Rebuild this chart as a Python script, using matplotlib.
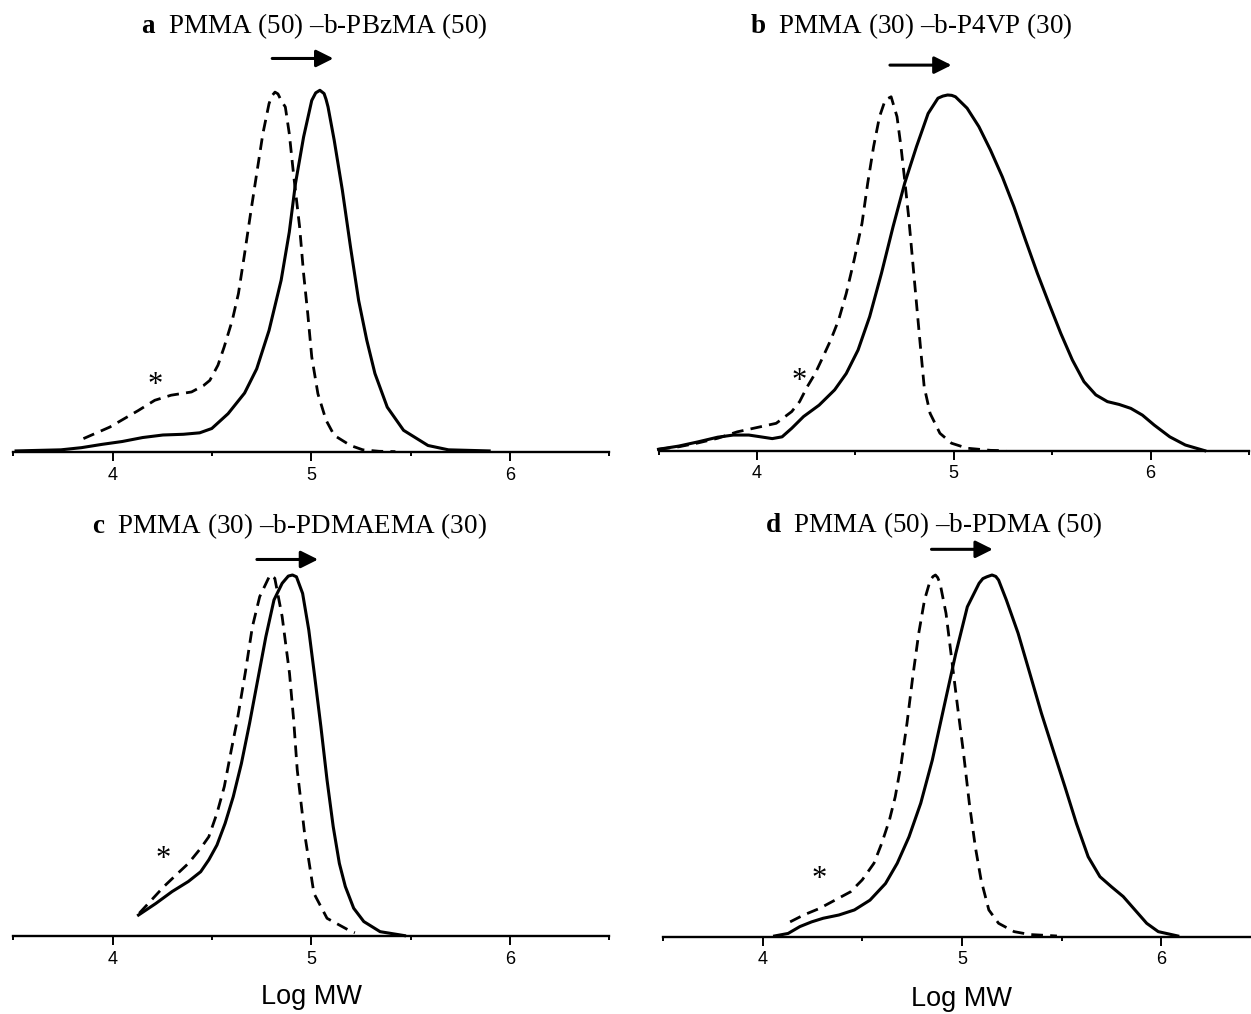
import numpy as np
import matplotlib
matplotlib.use('Agg')
import matplotlib.pyplot as plt

# GPC traces (x = Log MW, y = normalised RI signal)
# dashed = PMMA macro-initiator, solid = block copolymer

titles = ['a', 'b', 'c', 'd']
title_text = ['PMMA (50) \u2013b-PBzMA (50)',
              'PMMA (30) \u2013b-P4VP (30)',
              'PMMA (30) \u2013b-PDMAEMA (30)',
              'PMMA (50) \u2013b-PDMA (50)']

a_solid_x = [3.514, 3.740, 3.843, 3.945, 4.048, 4.151, 4.253, 4.356, 4.438, 4.499, 4.581,
             4.664, 4.725, 4.787, 4.848, 4.889, 4.920, 4.961, 5.002, 5.022, 5.043, 5.064,
             5.074, 5.084, 5.115, 5.156, 5.197, 5.238, 5.279, 5.320, 5.382, 5.464, 5.587,
             5.690, 5.895]
a_solid_y = [0.003, 0.006, 0.012, 0.021, 0.029, 0.040, 0.047, 0.049, 0.053, 0.065, 0.106,
             0.163, 0.230, 0.336, 0.475, 0.608, 0.742, 0.871, 0.972, 0.993, 1.000, 0.991,
             0.975, 0.954, 0.862, 0.724, 0.567, 0.419, 0.309, 0.217, 0.124, 0.060, 0.018,
             0.006, 0.003]
a_dash_x = [3.853, 3.986, 4.130, 4.212, 4.294, 4.397, 4.458, 4.489, 4.530, 4.561, 4.602,
            4.633, 4.664, 4.694, 4.725, 4.756, 4.787, 4.802, 4.817, 4.832, 4.848, 4.869,
            4.889, 4.910, 4.941, 4.961, 4.982, 5.002, 5.033, 5.074, 5.115, 5.197, 5.259,
            5.341, 5.423]
a_dash_y = [0.037, 0.069, 0.115, 0.143, 0.157, 0.166, 0.184, 0.198, 0.240, 0.290, 0.364,
            0.438, 0.548, 0.659, 0.770, 0.880, 0.963, 0.985, 0.995, 0.990, 0.972, 0.954,
            0.880, 0.770, 0.622, 0.493, 0.382, 0.263, 0.161, 0.088, 0.046, 0.018, 0.006,
            0.002, 0.001]

b_solid_x = [3.500, 3.603, 3.702, 3.801, 3.880, 3.959, 4.019, 4.078, 4.128, 4.177, 4.237,
             4.316, 4.395, 4.454, 4.514, 4.573, 4.633, 4.692, 4.751, 4.811, 4.870, 4.920,
             4.945, 4.969, 4.990, 5.009, 5.068, 5.128, 5.187, 5.247, 5.306, 5.365, 5.425,
             5.484, 5.544, 5.603, 5.662, 5.722, 5.781, 5.841, 5.900, 5.959, 6.019, 6.098,
             6.177, 6.276]
b_solid_y = [0.004, 0.013, 0.025, 0.038, 0.044, 0.044, 0.039, 0.034, 0.039, 0.063, 0.096,
             0.128, 0.171, 0.217, 0.283, 0.377, 0.499, 0.630, 0.752, 0.855, 0.948, 0.991,
             0.997, 1.000, 0.999, 0.995, 0.963, 0.911, 0.845, 0.770, 0.686, 0.592, 0.499,
             0.414, 0.330, 0.255, 0.194, 0.157, 0.138, 0.130, 0.119, 0.100, 0.072, 0.039,
             0.016, 0.000]
b_dash_x = [3.500, 3.603, 3.702, 3.801, 3.900, 3.999, 4.098, 4.177, 4.217, 4.256, 4.296,
            4.336, 4.375, 4.415, 4.454, 4.494, 4.534, 4.563, 4.593, 4.623, 4.652, 4.682,
            4.712, 4.732, 4.751, 4.771, 4.791, 4.811, 4.831, 4.850, 4.880, 4.930, 4.989,
            5.068, 5.187, 5.266]
b_dash_y = [0.004, 0.011, 0.022, 0.035, 0.053, 0.065, 0.077, 0.110, 0.138, 0.180, 0.217,
            0.264, 0.311, 0.367, 0.442, 0.536, 0.639, 0.752, 0.855, 0.939, 0.986, 0.995,
            0.939, 0.855, 0.761, 0.658, 0.536, 0.414, 0.292, 0.180, 0.105, 0.049, 0.021,
            0.007, 0.001, 0.000]

c_solid_x = [4.130, 4.217, 4.299, 4.381, 4.443, 4.484, 4.525, 4.566, 4.607, 4.648, 4.689,
             4.730, 4.771, 4.812, 4.853, 4.884, 4.905, 4.925, 4.956, 4.987, 5.017, 5.048,
             5.079, 5.110, 5.141, 5.171, 5.213, 5.264, 5.346, 5.469]
c_solid_y = [0.058, 0.090, 0.123, 0.151, 0.178, 0.211, 0.252, 0.312, 0.386, 0.478, 0.589,
             0.709, 0.829, 0.931, 0.977, 0.997, 1.000, 0.995, 0.949, 0.848, 0.718, 0.580,
             0.432, 0.303, 0.201, 0.137, 0.077, 0.040, 0.012, 0.001]
c_dash_x = [4.134, 4.196, 4.258, 4.319, 4.381, 4.443, 4.484, 4.525, 4.562, 4.597, 4.627,
            4.668, 4.703, 4.740, 4.792, 4.816, 4.853, 4.890, 4.911, 4.929, 4.966, 5.013,
            5.079, 5.192, 5.219]
c_dash_y = [0.063, 0.100, 0.137, 0.169, 0.201, 0.243, 0.275, 0.340, 0.414, 0.515, 0.598,
            0.731, 0.856, 0.940, 1.000, 0.991, 0.885, 0.728, 0.598, 0.460, 0.284, 0.118,
            0.049, 0.015, 0.009]

d_solid_x = [4.059, 4.127, 4.186, 4.245, 4.303, 4.382, 4.460, 4.538, 4.616, 4.675, 4.734,
             4.793, 4.851, 4.910, 4.969, 5.027, 5.086, 5.105, 5.125, 5.151, 5.170, 5.184,
             5.223, 5.282, 5.341, 5.399, 5.458, 5.517, 5.575, 5.634, 5.693, 5.751, 5.810,
             5.869, 5.928, 5.986, 6.084]
d_solid_y = [0.002, 0.009, 0.028, 0.041, 0.051, 0.060, 0.074, 0.101, 0.147, 0.203, 0.276,
             0.369, 0.488, 0.636, 0.783, 0.912, 0.977, 0.990, 0.995, 1.000, 0.996, 0.986,
             0.931, 0.839, 0.728, 0.618, 0.516, 0.415, 0.313, 0.221, 0.166, 0.138, 0.111,
             0.074, 0.037, 0.014, 0.002]
d_dash_x = [4.137, 4.205, 4.284, 4.362, 4.440, 4.499, 4.558, 4.597, 4.636, 4.665, 4.695,
            4.724, 4.753, 4.783, 4.812, 4.841, 4.855, 4.867, 4.878, 4.890, 4.920, 4.949,
            4.978, 5.008, 5.037, 5.067, 5.096, 5.135, 5.184, 5.262, 5.341, 5.477]
d_dash_y = [0.041, 0.060, 0.078, 0.101, 0.124, 0.157, 0.203, 0.258, 0.323, 0.387, 0.479,
            0.590, 0.719, 0.839, 0.931, 0.986, 0.996, 1.000, 0.993, 0.977, 0.894, 0.765,
            0.636, 0.507, 0.369, 0.249, 0.157, 0.074, 0.037, 0.014, 0.006, 0.002]

solids = [(a_solid_x, a_solid_y), (b_solid_x, b_solid_y), (c_solid_x, c_solid_y), (d_solid_x, d_solid_y)]
dashes = [(a_dash_x, a_dash_y), (b_dash_x, b_dash_y), (c_dash_x, c_dash_y), (d_dash_x, d_dash_y)]


if __name__ == "__main__":

    plt.rcParams['mathtext.fontset'] = 'custom'
    plt.rcParams['mathtext.bf'] = 'Liberation Serif:bold'
    plt.rcParams['mathtext.rm'] = 'Liberation Serif'

    W, H = 1251, 1014
    fig = plt.figure(figsize=(W / 100, H / 100), dpi=100)

    # axes placement in pixels: x of 3.5 / 6.5, y of baseline, pixel height of y=1
    boxes = [(13.3, 609.4, 452.0, 361.7),
             (658.5, 1248.9, 450.7, 355.7),
             (13.3, 609.4, 936.0, 361.0),
             (663.3, 1260.6, 936.7, 361.7)]
    ytop = 1.15

    # title centre x (px), title baseline (px)
    title_pos = [(314, 33), (911, 33), (289, 533), (934, 532)]
    # arrow (x start, x end, y) and asterisk (x, y) in data coords
    arrows = [(4.803, 5.111, 1.088), (4.676, 4.989, 1.084),
              (4.726, 5.034, 1.043), (4.847, 5.155, 1.071)]
    stars = [(4.212, 0.184), (4.213, 0.194), (4.254, 0.211), (4.284, 0.157)]

    for i in range(4):
        x0, x1, yb, hp = boxes[i]
        ax = fig.add_axes([x0 / W, 1 - yb / H, (x1 - x0) / W, ytop * hp / H])
        ax.set_xlim(3.5, 6.5)
        ax.set_ylim(0, ytop)

        sx, sy = solids[i]
        dx, dy = dashes[i]
        ax.plot(sx, sy, color='black', lw=2.2, clip_on=False, solid_joinstyle='round')
        ax.plot(dx, dy, color='black', lw=2.0, dashes=(4.2, 2.6), clip_on=False)

        for s in ['left', 'right', 'top']:
            ax.spines[s].set_visible(False)
        ax.spines['bottom'].set_linewidth(1.7)
        ax.set_yticks([])
        ax.set_xticks([4, 5, 6])
        ax.set_xticks([3.5, 4.5, 5.5, 6.5], minor=True)
        ax.set_xticklabels(['4', '5', '6'], fontfamily='Liberation Sans', fontsize=13)
        ax.tick_params(axis='x', which='major', length=6.5, width=1.4, pad=4)
        ax.tick_params(axis='x', which='minor', length=3.0, width=1.4)

        xa, xb, ya = arrows[i]
        ax.annotate('', xy=(xb, ya), xytext=(xa, ya), annotation_clip=False,
                    arrowprops=dict(arrowstyle='-|>', color='black', lw=2.2,
                                    mutation_scale=26, shrinkA=0, shrinkB=0))
        ax.text(stars[i][0], stars[i][1], '*', fontfamily='Liberation Serif',
                fontsize=22, ha='center', va='center')

        tx, ty = title_pos[i]
        fig.text(tx / W, 1 - ty / H, r'$\mathbf{%s}$  %s' % (titles[i], title_text[i]),
                 fontfamily='Liberation Serif', fontsize=19.5, ha='center', va='baseline')

    # x axis labels under the bottom row
    fig.text(311.3 / W, 1 - 997 / H, 'Log MW', fontfamily='Liberation Sans',
             fontsize=19.5, ha='center', va='center')
    fig.text(961.9 / W, 1 - 999 / H, 'Log MW', fontfamily='Liberation Sans',
             fontsize=19.5, ha='center', va='center')

    fig.savefig('out.png', dpi=100)
